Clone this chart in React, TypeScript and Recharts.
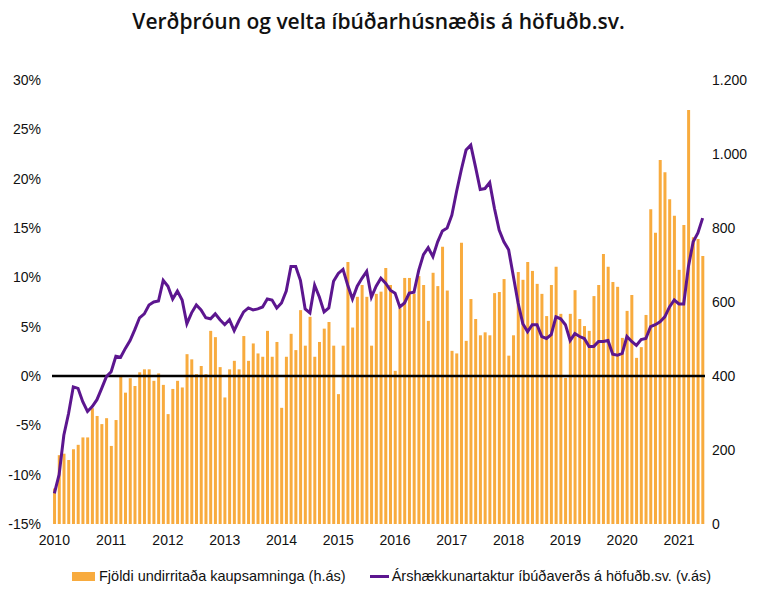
import { ComposedChart, Bar, Line, XAxis, YAxis, ReferenceLine } from "recharts";

const years = [2010, 2011, 2012, 2013, 2014, 2015, 2016, 2017, 2018, 2019, 2020, 2021];

// Fjöldi undirritaðra kaupsamninga (hægri ás), mánaðarlega
const contracts2010 = [96, 186, 190, 173, 202, 214, 234, 234, 313, 292, 270, 286];
const contracts2011 = [211, 281, 400, 355, 394, 373, 410, 418, 418, 387, 407, 376];
const contracts2012 = [297, 365, 387, 369, 459, 445, 405, 427, 405, 522, 505, 424];
const contracts2013 = [342, 418, 441, 418, 508, 441, 488, 461, 452, 522, 452, 492];
const contracts2014 = [314, 452, 514, 470, 578, 482, 560, 452, 492, 528, 546, 482];
const contracts2015 = [351, 482, 708, 531, 614, 646, 614, 482, 622, 628, 692, 646];
const contracts2016 = [414, 583, 665, 665, 622, 670, 646, 549, 679, 643, 749, 631];
const contracts2017 = [468, 461, 760, 495, 608, 554, 510, 518, 510, 624, 627, 662];
const contracts2018 = [455, 510, 681, 660, 708, 684, 649, 622, 562, 646, 695, 568];
const contracts2019 = [395, 568, 632, 554, 535, 522, 616, 646, 730, 695, 654, 641];
const contracts2020 = [503, 576, 619, 449, 478, 565, 851, 787, 984, 951, 878, 833];
const contracts2021 = [687, 808, 1119, 775, 770, 724];

// Árshækkunartaktur íbúðaverðs (vinstri ás), %
const price2010 = [-11.9, -10.0, -6.0, -3.8, -1.1, -1.25, -2.6, -3.6, -3.1, -2.4, -1.25, -0.07];
const price2011 = [0.44, 2.0, 1.9, 2.8, 3.6, 4.7, 5.9, 6.3, 7.2, 7.5, 7.6, 9.7];
const price2012 = [9.1, 7.8, 8.6, 7.7, 5.3, 6.4, 7.2, 6.7, 5.9, 5.8, 6.3, 5.7];
const price2013 = [5.2, 5.7, 4.6, 5.6, 6.5, 6.9, 6.7, 6.8, 7.0, 7.8, 7.7, 6.9];
const price2014 = [7.4, 8.6, 11.1, 11.1, 9.7, 6.8, 6.4, 9.2, 8.0, 6.5, 6.9, 9.6];
const price2015 = [10.4, 10.8, 9.2, 7.8, 9.1, 9.9, 10.6, 8.0, 9.1, 9.9, 9.4, 8.7];
const price2016 = [8.4, 7.0, 7.4, 8.4, 8.5, 10.7, 12.3, 13.0, 12.1, 13.6, 14.7, 15.0];
const price2017 = [16.3, 18.7, 20.9, 22.9, 23.4, 21.2, 18.9, 19.0, 19.6, 17.0, 14.8, 13.6];
const price2018 = [12.8, 10.1, 7.4, 5.3, 4.5, 5.2, 5.2, 4.0, 3.8, 4.2, 6.0, 5.8];
const price2019 = [5.2, 3.6, 4.3, 4.0, 3.8, 3.0, 3.0, 3.5, 3.5, 3.6, 2.2, 2.1];
const price2020 = [2.3, 4.0, 3.5, 3.1, 3.7, 3.8, 5.0, 5.2, 5.5, 6.0, 7.0, 7.7];
const price2021 = [7.3, 7.3, 11.1, 13.6, 14.5, 16.0];

const leftTicks = [-15, -10, -5, 0, 5, 10, 15, 20, 25, 30];
const rightTicks = [0, 200, 400, 600, 800, 1000, 1200];

const contractsByYear = [
  contracts2010, contracts2011, contracts2012, contracts2013, contracts2014, contracts2015,
  contracts2016, contracts2017, contracts2018, contracts2019, contracts2020, contracts2021,
];
const priceByYear = [
  price2010, price2011, price2012, price2013, price2014, price2015,
  price2016, price2017, price2018, price2019, price2020, price2021,
];

const data = years.flatMap((year, i) =>
  contractsByYear[i].map((c, m) => ({
    key: `${year}-${m + 1}`,
    contracts: c,
    price: priceByYear[i][m],
  }))
);

const yearTicks = years.map((y) => `${y}-1`);

const ORANGE = "#F8AB3E";
const PURPLE = "#5C168F";
const FONT = "'Liberation Sans', Arial, sans-serif";

const fmtThousands = (v: number) => v.toLocaleString("de-DE");

export default function App() {
  const tickStyle = { fill: "#111", fontSize: 14, fontFamily: FONT };
  return (
    <div style={{ position: "absolute", left: 0, top: 0, width: 757, height: 605, background: "#fff" }}>
      <div
        style={{
          position: "absolute",
          top: 7,
          width: 757,
          textAlign: "center",
          fontFamily: "'Open Sans', Lato, sans-serif",
          fontWeight: 600,
          fontSize: 21,
          color: "#111",
        }}
      >
        Verðþróun og velta íbúðarhúsnæðis á höfuðb.sv.
      </div>
      <ComposedChart
        width={757}
        height={605}
        data={data}
        margin={{ top: 80, right: 2, bottom: 51, left: 8 }}
        barCategoryGap="22%"
      >
        <XAxis
          dataKey="key"
          ticks={yearTicks}
          interval={0}
          tickFormatter={(v: string) => v.split("-")[0]}
          tick={tickStyle}
          tickLine={false}
          axisLine={false}
          tickSize={0}
          tickMargin={11}
          height={30}
        />
        <YAxis
          yAxisId="left"
          orientation="left"
          domain={[-15, 30]}
          ticks={leftTicks}
          tickFormatter={(v: number) => `${v}%`}
          tick={tickStyle}
          tickLine={false}
          axisLine={false}
          tickSize={0}
          tickMargin={11}
          width={44}
        />
        <YAxis
          yAxisId="right"
          orientation="right"
          domain={[0, 1200]}
          ticks={rightTicks}
          tickFormatter={fmtThousands}
          tick={{ ...tickStyle, textAnchor: "start" }}
          tickLine={false}
          axisLine={false}
          tickSize={0}
          tickMargin={7}
          width={50}
        />
        <Bar yAxisId="right" dataKey="contracts" fill={ORANGE} isAnimationActive={false} />
        <ReferenceLine yAxisId="left" y={0} stroke="#000" strokeWidth={2.5} />
        <Line
          yAxisId="left"
          dataKey="price"
          type="linear"
          stroke={PURPLE}
          strokeWidth={3}
          dot={false}
          isAnimationActive={false}
        />
      </ComposedChart>
      <div
        style={{
          position: "absolute",
          top: 568,
          left: 72,
          display: "flex",
          alignItems: "center",
          fontFamily: FONT,
          fontSize: 14.5,
          color: "#111",
          whiteSpace: "nowrap",
        }}
      >
        <span style={{ display: "inline-block", width: 23, height: 9, background: ORANGE, marginRight: 4 }} />
        <span>Fjöldi undirritaða kaupsamninga (h.ás)</span>
        <span style={{ display: "inline-block", width: 19, height: 3, background: PURPLE, marginLeft: 24, marginRight: 3 }} />
        <span>Árshækkunartaktur íbúðaverðs á höfuðb.sv. (v.ás)</span>
      </div>
    </div>
  );
}
